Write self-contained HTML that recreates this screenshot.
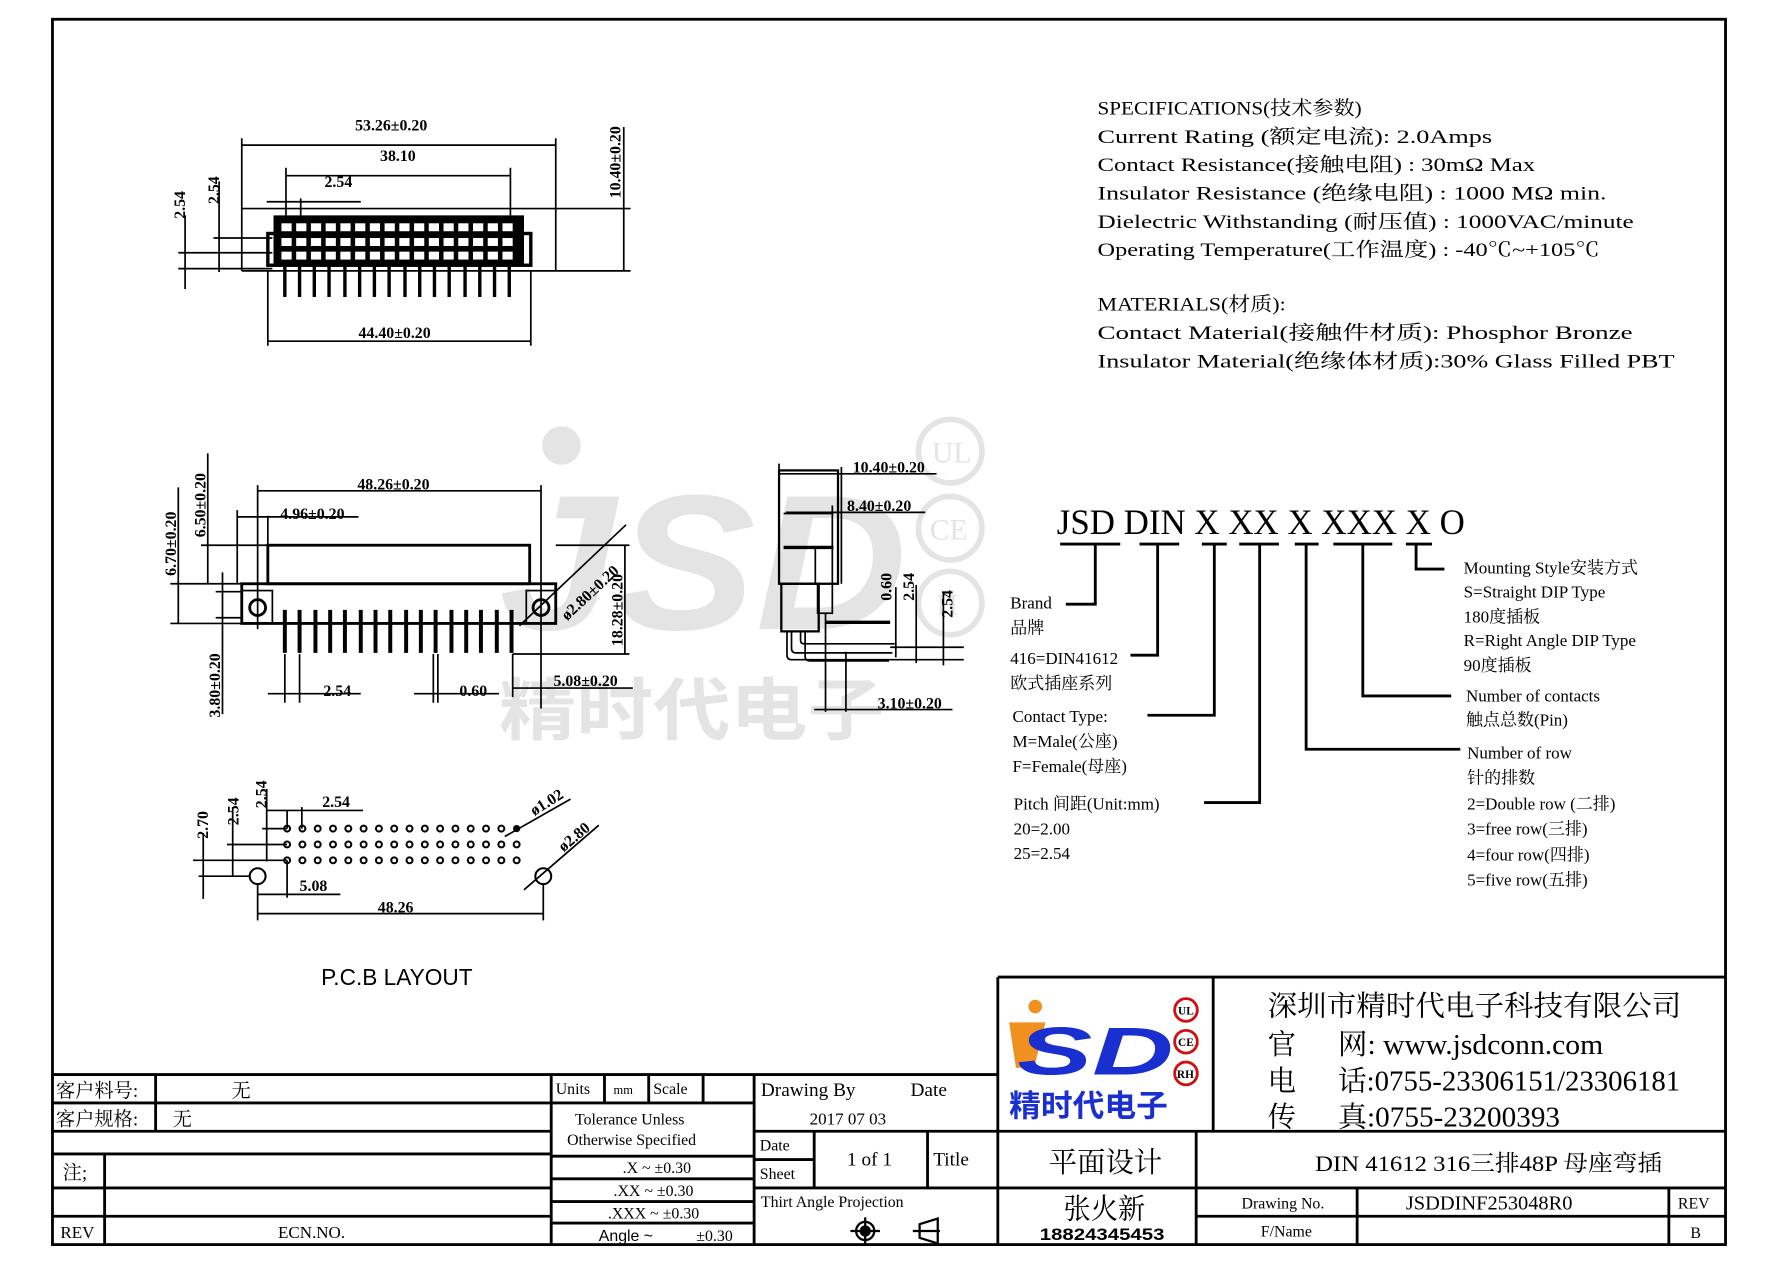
<!DOCTYPE html>
<html><head><meta charset="utf-8"><style>
html,body{margin:0;padding:0;background:#fff}
svg{display:block}
text{font-family:"Liberation Serif","Noto Serif CJK SC",serif;fill:#000}
.s{font-family:"Liberation Sans","Noto Sans CJK SC",sans-serif;font-weight:bold}
.w{fill:#e4e4e4}
</style></head><body>
<svg width="1778" height="1265" viewBox="0 0 1568 1116" xmlns="http://www.w3.org/2000/svg">
<rect x="0" y="0" width="1568" height="1116" fill="#fff"/>
<!-- watermark -->
<circle cx="495" cy="393" r="17" fill="#e4e4e4"/>
<text x="440" y="555" font-size="170" font-weight="bold" font-style="italic" class="s w" textLength="360" lengthAdjust="spacingAndGlyphs">JSD</text>
<text x="440" y="648" font-size="60" class="s w" textLength="340" lengthAdjust="spacingAndGlyphs">精时代电子</text>
<g fill="none" stroke="#e4e4e4" stroke-width="5">
<circle cx="838" cy="398" r="28"/><circle cx="838" cy="466" r="28"/><circle cx="838" cy="532" r="28"/>
</g>
<g font-size="26"><text class="w" x="822" y="408">UL</text><text class="w" x="820" y="476">CE</text><text class="w" x="826" y="542">H</text></g>

<!-- border -->
<rect x="46" y="17" width="1476" height="1081" fill="none" stroke="#000" stroke-width="2.5"/>

<!-- TOP VIEW -->
<g stroke="#000" fill="none" stroke-width="1.5">
<line x1="213" y1="184" x2="556" y2="184"/><line x1="213" y1="239" x2="556" y2="239"/>
<line x1="213" y1="184" x2="213" y2="239"/><line x1="490" y1="122" x2="490" y2="239"/>
<line x1="213" y1="122" x2="213" y2="184"/>
<line x1="213" y1="128" x2="490" y2="128"/>
<line x1="252" y1="148" x2="252" y2="190"/><line x1="450" y1="148" x2="450" y2="190"/>
<line x1="252" y1="155" x2="450" y2="155"/>
<line x1="265" y1="175" x2="265" y2="190"/><line x1="235" y1="178" x2="318" y2="178"/>
<line x1="236" y1="239" x2="236" y2="305"/><line x1="468" y1="239" x2="468" y2="305"/>
<line x1="236" y1="301" x2="468" y2="301"/>
<line x1="550" y1="112" x2="550" y2="239"/>
<line x1="188" y1="210" x2="240" y2="210"/><line x1="157" y1="223" x2="240" y2="223"/><line x1="157" y1="237" x2="240" y2="237"/>
<line x1="163" y1="190" x2="163" y2="255"/><line x1="193" y1="160" x2="193" y2="240"/>
</g>
<rect x="241" y="190" width="221" height="44" fill="#000"/>
<rect x="236" y="206" width="232" height="28" fill="none" stroke="#000" stroke-width="3"/>
<g fill="#fff">
<rect x="248" y="197" width="9" height="7"/><rect x="261" y="197" width="9" height="7"/><rect x="274" y="197" width="9" height="7"/><rect x="287" y="197" width="9" height="7"/><rect x="300" y="197" width="9" height="7"/><rect x="313" y="197" width="9" height="7"/><rect x="326" y="197" width="9" height="7"/><rect x="339" y="197" width="9" height="7"/><rect x="352" y="197" width="9" height="7"/><rect x="365" y="197" width="9" height="7"/><rect x="378" y="197" width="9" height="7"/><rect x="391" y="197" width="9" height="7"/><rect x="404" y="197" width="9" height="7"/><rect x="417" y="197" width="9" height="7"/><rect x="430" y="197" width="9" height="7"/><rect x="443" y="197" width="9" height="7"/>
<rect x="248" y="210" width="9" height="7"/><rect x="261" y="210" width="9" height="7"/><rect x="274" y="210" width="9" height="7"/><rect x="287" y="210" width="9" height="7"/><rect x="300" y="210" width="9" height="7"/><rect x="313" y="210" width="9" height="7"/><rect x="326" y="210" width="9" height="7"/><rect x="339" y="210" width="9" height="7"/><rect x="352" y="210" width="9" height="7"/><rect x="365" y="210" width="9" height="7"/><rect x="378" y="210" width="9" height="7"/><rect x="391" y="210" width="9" height="7"/><rect x="404" y="210" width="9" height="7"/><rect x="417" y="210" width="9" height="7"/><rect x="430" y="210" width="9" height="7"/><rect x="443" y="210" width="9" height="7"/>
<rect x="248" y="222" width="9" height="7"/><rect x="261" y="222" width="9" height="7"/><rect x="274" y="222" width="9" height="7"/><rect x="287" y="222" width="9" height="7"/><rect x="300" y="222" width="9" height="7"/><rect x="313" y="222" width="9" height="7"/><rect x="326" y="222" width="9" height="7"/><rect x="339" y="222" width="9" height="7"/><rect x="352" y="222" width="9" height="7"/><rect x="365" y="222" width="9" height="7"/><rect x="378" y="222" width="9" height="7"/><rect x="391" y="222" width="9" height="7"/><rect x="404" y="222" width="9" height="7"/><rect x="417" y="222" width="9" height="7"/><rect x="430" y="222" width="9" height="7"/><rect x="443" y="222" width="9" height="7"/>
</g>
<g stroke="#000" stroke-width="3">
<line x1="251" y1="234" x2="251" y2="262"/><line x1="264" y1="234" x2="264" y2="262"/><line x1="277" y1="234" x2="277" y2="262"/><line x1="290" y1="234" x2="290" y2="262"/><line x1="304" y1="234" x2="304" y2="262"/><line x1="317" y1="234" x2="317" y2="262"/><line x1="330" y1="234" x2="330" y2="262"/><line x1="343" y1="234" x2="343" y2="262"/><line x1="357" y1="234" x2="357" y2="262"/><line x1="370" y1="234" x2="370" y2="262"/><line x1="383" y1="234" x2="383" y2="262"/><line x1="396" y1="234" x2="396" y2="262"/><line x1="410" y1="234" x2="410" y2="262"/><line x1="423" y1="234" x2="423" y2="262"/><line x1="436" y1="234" x2="436" y2="262"/><line x1="449" y1="234" x2="449" y2="262"/>
</g>
<g class="s" font-size="14">
<text x="313" y="115">53.26±0.20</text><text x="335" y="142">38.10</text><text x="286" y="165">2.54</text><text x="316" y="298">44.40±0.20</text>
<text transform="translate(547,175) rotate(-90)">10.40±0.20</text>
<text transform="translate(163,193) rotate(-90)">2.54</text><text transform="translate(193,180) rotate(-90)">2.54</text>
</g>

<!-- FRONT VIEW -->
<g stroke="#000" fill="none" stroke-width="1.5">
<rect x="236" y="481" width="231" height="34" stroke-width="2.5"/>
<rect x="213" y="515" width="277" height="35" stroke-width="2.5"/>
<rect x="213" y="521" width="27" height="29"/><rect x="464" y="521" width="26" height="29"/>
<circle cx="227" cy="536" r="7" stroke-width="2.5"/><circle cx="477" cy="536" r="7" stroke-width="2.5"/>
<line x1="458" y1="552" x2="552" y2="463"/>
<line x1="227" y1="428" x2="227" y2="555"/><line x1="477" y1="428" x2="477" y2="625"/>
<line x1="227" y1="433" x2="477" y2="433"/>
<line x1="209" y1="450" x2="209" y2="515"/><line x1="236" y1="455" x2="236" y2="481"/>
<line x1="209" y1="456" x2="316" y2="456"/>
<line x1="177" y1="481" x2="236" y2="481"/><line x1="150" y1="515" x2="213" y2="515"/><line x1="150" y1="550" x2="213" y2="550"/>
<line x1="183" y1="400" x2="183" y2="515"/><line x1="157" y1="430" x2="157" y2="550"/>
<line x1="196" y1="505" x2="196" y2="630"/><line x1="190" y1="522" x2="213" y2="522"/><line x1="190" y1="545" x2="213" y2="545"/>
<line x1="490" y1="481" x2="555" y2="481"/><line x1="452" y1="577" x2="555" y2="577"/><line x1="551" y1="481" x2="551" y2="577"/>
<line x1="452" y1="577" x2="452" y2="615"/><line x1="452" y1="607" x2="558" y2="607"/>
<line x1="251" y1="577" x2="251" y2="620"/><line x1="264" y1="577" x2="264" y2="620"/><line x1="236" y1="612" x2="318" y2="612"/>
<line x1="382" y1="577" x2="382" y2="620"/><line x1="386" y1="577" x2="386" y2="620"/><line x1="365" y1="612" x2="440" y2="612"/>
</g>
<g stroke="#000" stroke-width="3.5">
<line x1="251" y1="538" x2="251" y2="576"/><line x1="264" y1="538" x2="264" y2="576"/><line x1="278" y1="538" x2="278" y2="576"/><line x1="291" y1="538" x2="291" y2="576"/><line x1="304" y1="538" x2="304" y2="576"/><line x1="318" y1="538" x2="318" y2="576"/><line x1="331" y1="538" x2="331" y2="576"/><line x1="344" y1="538" x2="344" y2="576"/><line x1="358" y1="538" x2="358" y2="576"/><line x1="371" y1="538" x2="371" y2="576"/><line x1="384" y1="538" x2="384" y2="576"/><line x1="398" y1="538" x2="398" y2="576"/><line x1="411" y1="538" x2="411" y2="576"/><line x1="424" y1="538" x2="424" y2="576"/><line x1="438" y1="538" x2="438" y2="576"/><line x1="451" y1="538" x2="451" y2="576"/>
</g>
<g class="s" font-size="14">
<text x="315" y="432">48.26±0.20</text><text x="247" y="458">4.96±0.20</text>
<text x="285" y="614">2.54</text><text x="405" y="614">0.60</text><text x="488" y="605">5.08±0.20</text>
<text transform="translate(155,508) rotate(-90)">6.70±0.20</text>
<text transform="translate(181,474) rotate(-90)">6.50±0.20</text>
<text transform="translate(194,633) rotate(-90)">3.80±0.20</text>
<text transform="translate(549,570) rotate(-90)">18.28±0.20</text>
<text transform="translate(500,548) rotate(-43)">ø2.80±0.20</text>
</g>

<!-- SIDE VIEW -->
<g stroke="#000" fill="none" stroke-width="1.5">
<rect x="687" y="415" width="52" height="100" stroke-width="2"/>
<line x1="691" y1="453" x2="735" y2="453"/><line x1="691" y1="483" x2="735" y2="483" stroke-width="3"/>
<line x1="719" y1="483" x2="719" y2="515"/>
<rect x="689" y="515" width="33" height="42" stroke-width="2"/>
<rect x="721" y="515" width="13" height="26"/>
<path d="M698 557 v15 q0 4 4 4 h85"/><path d="M694 557 v21 q0 4 4 4 h88"/>
<path d="M706 557 v8 q0 3 3 3 h80"/>
<path d="M710 557 v22 q0 4 4 4 h70"/>
<line x1="728" y1="541" x2="728" y2="560"/><line x1="728" y1="549" x2="785" y2="549" stroke-width="3"/>
<line x1="687" y1="409" x2="687" y2="415"/><line x1="687" y1="418" x2="826" y2="418"/>
<line x1="742" y1="412" x2="742" y2="515"/>
<line x1="693" y1="452" x2="816" y2="452"/><line x1="734" y1="446" x2="734" y2="515"/>
<line x1="790" y1="518" x2="790" y2="580"/><line x1="808" y1="516" x2="808" y2="585"/><line x1="832" y1="522" x2="832" y2="587"/>
<line x1="785" y1="571" x2="850" y2="571"/><line x1="785" y1="582" x2="850" y2="582"/>
<line x1="728" y1="560" x2="728" y2="628"/><line x1="746" y1="575" x2="746" y2="628"/>
<line x1="718" y1="626" x2="840" y2="626"/>
</g>
<g class="s" font-size="14">
<text x="752" y="417">10.40±0.20</text><text x="747" y="451">8.40±0.20</text><text x="774" y="625">3.10±0.20</text>
<text transform="translate(786,530) rotate(-90)">0.60</text>
<text transform="translate(806,530) rotate(-90)">2.54</text>
<text transform="translate(840,545) rotate(-90)">2.54</text>
</g>

<!-- PCB LAYOUT -->
<g fill="none" stroke="#000" stroke-width="1.8">
<circle cx="253" cy="731" r="2.6"/><circle cx="266.5" cy="731" r="2.6"/><circle cx="280" cy="731" r="2.6"/><circle cx="293.5" cy="731" r="2.6"/><circle cx="307" cy="731" r="2.6"/><circle cx="320.5" cy="731" r="2.6"/><circle cx="334" cy="731" r="2.6"/><circle cx="347.5" cy="731" r="2.6"/><circle cx="361" cy="731" r="2.6"/><circle cx="374.5" cy="731" r="2.6"/><circle cx="388" cy="731" r="2.6"/><circle cx="401.5" cy="731" r="2.6"/><circle cx="415" cy="731" r="2.6"/><circle cx="428.5" cy="731" r="2.6"/><circle cx="442" cy="731" r="2.6"/>
<circle cx="253" cy="745" r="2.6"/><circle cx="266.5" cy="745" r="2.6"/><circle cx="280" cy="745" r="2.6"/><circle cx="293.5" cy="745" r="2.6"/><circle cx="307" cy="745" r="2.6"/><circle cx="320.5" cy="745" r="2.6"/><circle cx="334" cy="745" r="2.6"/><circle cx="347.5" cy="745" r="2.6"/><circle cx="361" cy="745" r="2.6"/><circle cx="374.5" cy="745" r="2.6"/><circle cx="388" cy="745" r="2.6"/><circle cx="401.5" cy="745" r="2.6"/><circle cx="415" cy="745" r="2.6"/><circle cx="428.5" cy="745" r="2.6"/><circle cx="442" cy="745" r="2.6"/><circle cx="455.5" cy="745" r="2.6"/>
<circle cx="253" cy="759" r="2.6"/><circle cx="266.5" cy="759" r="2.6"/><circle cx="280" cy="759" r="2.6"/><circle cx="293.5" cy="759" r="2.6"/><circle cx="307" cy="759" r="2.6"/><circle cx="320.5" cy="759" r="2.6"/><circle cx="334" cy="759" r="2.6"/><circle cx="347.5" cy="759" r="2.6"/><circle cx="361" cy="759" r="2.6"/><circle cx="374.5" cy="759" r="2.6"/><circle cx="388" cy="759" r="2.6"/><circle cx="401.5" cy="759" r="2.6"/><circle cx="415" cy="759" r="2.6"/><circle cx="428.5" cy="759" r="2.6"/><circle cx="442" cy="759" r="2.6"/><circle cx="455.5" cy="759" r="2.6"/>
<circle cx="227" cy="773" r="7"/><circle cx="479" cy="773" r="7"/>
</g>
<circle cx="455.5" cy="731" r="3.2" fill="#000"/>
<g stroke="#000" stroke-width="1.5" fill="none">
<line x1="253" y1="715" x2="253" y2="731"/><line x1="266" y1="712" x2="266" y2="731"/><line x1="235" y1="715" x2="320" y2="715"/>
<line x1="235" y1="696" x2="235" y2="760"/><line x1="205" y1="712" x2="205" y2="773"/><line x1="179" y1="735" x2="179" y2="793"/>
<line x1="231" y1="731" x2="253" y2="731"/><line x1="200" y1="745" x2="253" y2="745"/><line x1="170" y1="759" x2="253" y2="759"/><line x1="175" y1="773" x2="220" y2="773"/>
<line x1="253" y1="759" x2="253" y2="792"/><line x1="227" y1="780" x2="227" y2="812"/><line x1="479" y1="780" x2="479" y2="812"/>
<line x1="227" y1="789" x2="300" y2="789"/><line x1="227" y1="806" x2="479" y2="806"/>
<line x1="445" y1="738" x2="503" y2="705"/><line x1="462" y1="785" x2="528" y2="728"/>
</g>
<g class="s" font-size="14">
<text x="284" y="712">2.54</text><text x="264" y="786">5.08</text><text x="333" y="805">48.26</text>
<text transform="translate(183,740) rotate(-90)">2.70</text>
<text transform="translate(210,728) rotate(-90)">2.54</text>
<text transform="translate(235,713) rotate(-90)">2.54</text>
<text transform="translate(471,720) rotate(-32)">ø1.02</text>
<text transform="translate(497,752) rotate(-40)">ø2.80</text>
</g>
<text x="283" y="869" font-size="20" style="font-family:'Liberation Sans',sans-serif">P.C.B LAYOUT</text>

<!-- SPECIFICATIONS -->
<g font-size="17">
<text x="968" y="101" textLength="233" lengthAdjust="spacingAndGlyphs">SPECIFICATIONS(技术参数)</text>
<text x="968" y="126" textLength="348" lengthAdjust="spacingAndGlyphs">Current Rating (额定电流):   2.0Amps</text>
<text x="968" y="151" textLength="386" lengthAdjust="spacingAndGlyphs">Contact Resistance(接触电阻) : 30mΩ  Max</text>
<text x="968" y="176" textLength="449" lengthAdjust="spacingAndGlyphs">Insulator Resistance (绝缘电阻) : 1000 MΩ  min.</text>
<text x="968" y="201" textLength="473" lengthAdjust="spacingAndGlyphs">Dielectric Withstanding (耐压值) : 1000VAC/minute</text>
<text x="968" y="226" textLength="443" lengthAdjust="spacingAndGlyphs">Operating Temperature(工作温度) : -40℃~+105℃</text>
<text x="968" y="274" textLength="166" lengthAdjust="spacingAndGlyphs">MATERIALS(材质):</text>
<text x="968" y="299" textLength="472" lengthAdjust="spacingAndGlyphs">Contact Material(接触件材质):    Phosphor Bronze</text>
<text x="968" y="324" textLength="509" lengthAdjust="spacingAndGlyphs">Insulator Material(绝缘体材质):30% Glass Filled PBT</text>
</g>

<!-- Part number -->
<text x="932" y="471" font-size="32" textLength="360" lengthAdjust="spacingAndGlyphs">JSD DIN X XX X XXX X O</text>
<g stroke="#000" stroke-width="2.5" fill="none">
<line x1="935" y1="480" x2="988" y2="480"/><line x1="1005" y1="480" x2="1040" y2="480"/><line x1="1060" y1="480" x2="1082" y2="480"/>
<line x1="1093" y1="480" x2="1128" y2="480"/><line x1="1142" y1="480" x2="1163" y2="480"/><line x1="1176" y1="480" x2="1228" y2="480"/><line x1="1240" y1="480" x2="1263" y2="480"/>
<polyline points="966,480 966,533 940,533"/>
<polyline points="1021,480 1021,578 997,578"/>
<polyline points="1071,480 1071,631 1012,631"/>
<polyline points="1111,480 1111,708 1062,708"/>
<polyline points="1152,480 1152,661 1288,661"/>
<polyline points="1202,480 1202,614 1280,614"/>
<polyline points="1249,480 1249,502 1274,502"/>
</g>
<g font-size="15">
<text x="891" y="537">Brand</text><text x="891" y="559">品牌</text>
<text x="891" y="586">416=DIN41612</text><text x="891" y="608">欧式插座系列</text>
<text x="893" y="637">Contact Type:</text><text x="893" y="659">M=Male(公座)</text><text x="893" y="681">F=Female(母座)</text>
<text x="894" y="714">Pitch 间距(Unit:mm)</text><text x="894" y="736">20=2.00</text><text x="894" y="758">25=2.54</text>
<text x="1291" y="506">Mounting Style安装方式</text><text x="1291" y="527">S=Straight DIP Type</text><text x="1291" y="549">180度插板</text>
<text x="1291" y="570">R=Right Angle DIP Type</text><text x="1291" y="592">90度插板</text>
<text x="1293" y="619">Number of contacts</text><text x="1293" y="640">触点总数(Pin)</text>
<text x="1294" y="669">Number of row</text><text x="1294" y="691">针的排数</text>
<text x="1294" y="714">2=Double row (二排)</text><text x="1294" y="736">3=free row(三排)</text><text x="1294" y="759">4=four row(四排)</text><text x="1294" y="781">5=five row(五排)</text>
</g>

<!-- TITLE BLOCK -->
<g stroke="#000" stroke-width="2.5" fill="none">
<line x1="46" y1="948" x2="880" y2="948"/>
<line x1="880" y1="862" x2="1522" y2="862"/><line x1="880" y1="862" x2="880" y2="1098"/>
<line x1="1070" y1="862" x2="1070" y2="998"/>
<line x1="880" y1="998" x2="1522" y2="998"/>
<line x1="665" y1="1048" x2="1522" y2="1048"/>
<line x1="1055" y1="998" x2="1055" y2="1098"/>
<line x1="1197" y1="1048" x2="1197" y2="1098"/><line x1="1472" y1="1048" x2="1472" y2="1098"/>
<line x1="1055" y1="1073" x2="1522" y2="1073"/>
<line x1="46" y1="973" x2="486" y2="973"/><line x1="46" y1="998" x2="486" y2="998"/>
<line x1="46" y1="1018" x2="486" y2="1018"/><line x1="46" y1="1048" x2="486" y2="1048"/>
<line x1="46" y1="1073" x2="486" y2="1073"/>
<line x1="137" y1="948" x2="137" y2="998"/><line x1="92" y1="1018" x2="92" y2="1098"/>
<line x1="486" y1="948" x2="486" y2="1098"/><line x1="665" y1="948" x2="665" y2="1098"/>
<line x1="486" y1="973" x2="665" y2="973"/>
<line x1="533" y1="948" x2="533" y2="973"/><line x1="572" y1="948" x2="572" y2="973"/><line x1="620" y1="948" x2="620" y2="973"/>
<line x1="486" y1="1020" x2="665" y2="1020"/><line x1="486" y1="1040" x2="665" y2="1040"/><line x1="486" y1="1060" x2="665" y2="1060"/><line x1="486" y1="1079" x2="665" y2="1079"/>
<line x1="665" y1="998" x2="880" y2="998"/>
<line x1="718" y1="998" x2="718" y2="1048"/><line x1="665" y1="1023" x2="718" y2="1023"/><line x1="818" y1="998" x2="818" y2="1048"/>
</g>
<g font-size="17">
<text x="49" y="968">客户料号:</text><text x="204" y="968">无</text>
<text x="49" y="993">客户规格:</text><text x="152" y="993">无</text>
<text x="55" y="1040">注;</text>
<text x="53" y="1092" font-size="15">REV</text><text x="245" y="1092" font-size="15">ECN.NO.</text>
</g>
<g font-size="14">
<text x="490" y="965">Units</text><text x="541" y="965" font-size="11">mm</text><text x="576" y="965">Scale</text>
<text x="507" y="992">Tolerance Unless</text><text x="500" y="1010">Otherwise Specified</text>
<text x="549" y="1035">.X   ~   ±0.30</text><text x="541" y="1055">.XX   ~  ±0.30</text><text x="536" y="1075">.XXX  ~  ±0.30</text>
<text x="528" y="1095" style="font-family:'Liberation Sans',sans-serif">Angle ~</text><text x="614" y="1095">±0.30</text>
<text x="671" y="967" font-size="17">Drawing By</text><text x="803" y="967" font-size="17">Date</text>
<text x="714" y="992" font-size="15">2017  07  03</text>
<text x="670" y="1015">Date</text><text x="670" y="1040">Sheet</text>
<text x="747" y="1028" font-size="17">1 of 1</text><text x="823" y="1028" font-size="17">Title</text>
<text x="671" y="1065">Thirt Angle Projection</text>
</g>
<g stroke="#000" stroke-width="2" fill="none">
<circle cx="763" cy="1086" r="8"/><circle cx="763" cy="1086" r="4" fill="#000"/>
<line x1="750" y1="1086" x2="776" y2="1086"/><line x1="763" y1="1074" x2="763" y2="1098"/>
<path d="M805 1086 h24 M811 1080 l16 -5 v22 l-16 -5 z"/>
</g>
<!-- logo -->
<circle cx="913" cy="888" r="6" fill="#f0901e"/>
<path d="M890 902 l32 0 l-10 40 l-16 0 z" fill="#f0901e"/>
<text x="897" y="948" font-size="60" font-style="italic" class="s" style="fill:#1a2fd0" textLength="138" lengthAdjust="spacingAndGlyphs">SD</text>
<text x="890" y="985" font-size="27" class="s" style="fill:#1a2fd0" textLength="140" lengthAdjust="spacingAndGlyphs">精时代电子</text>
<g fill="none" stroke="#d01010" stroke-width="2.5"><circle cx="1046" cy="891" r="10"/><circle cx="1046" cy="919" r="10"/><circle cx="1046" cy="947" r="10"/></g>
<g font-size="10" font-weight="bold"><text x="1039" y="895">UL</text><text x="1039" y="923">CE</text><text x="1038" y="951">RH</text></g>
<g font-size="25">
<text x="1118" y="896" textLength="365" lengthAdjust="spacingAndGlyphs">深圳市精时代电子科技有限公司</text>
<text x="1118" y="930">官</text><text x="1180" y="930" textLength="234" lengthAdjust="spacingAndGlyphs">网: www.jsdconn.com</text>
<text x="1118" y="962">电</text><text x="1180" y="962" textLength="302" lengthAdjust="spacingAndGlyphs">话:0755-23306151/23306181</text>
<text x="1118" y="994">传</text><text x="1180" y="994" textLength="196" lengthAdjust="spacingAndGlyphs">真:0755-23200393</text>
<text x="925" y="1034" textLength="100" lengthAdjust="spacingAndGlyphs">平面设计</text>
<text x="1160" y="1033" font-size="20" textLength="306" lengthAdjust="spacingAndGlyphs">DIN  41612 316三排48P 母座弯插</text>
<text x="938" y="1075" textLength="72" lengthAdjust="spacingAndGlyphs">张火新</text>
</g>
<text x="917" y="1094" font-size="15" class="s" textLength="110" lengthAdjust="spacingAndGlyphs">18824345453</text>
<g font-size="14">
<text x="1095" y="1066">Drawing No.</text><text x="1240" y="1067" font-size="18">JSDDINF253048R0</text><text x="1480" y="1066">REV</text>
<text x="1112" y="1091">F/Name</text><text x="1491" y="1092">B</text>
</g>
</svg>
</body></html>
